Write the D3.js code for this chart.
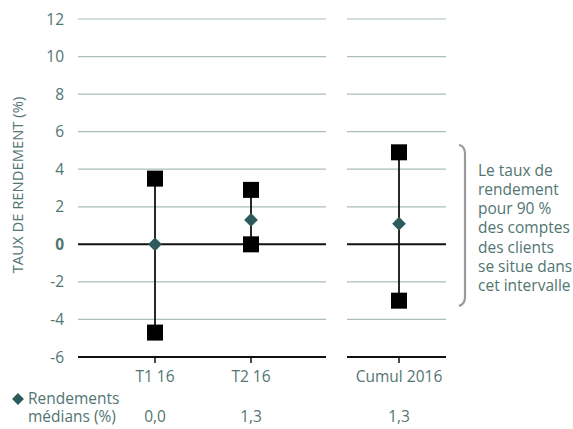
<!DOCTYPE html>
<html lang="fr">
<head>
<meta charset="UTF-8">
<title>Taux de rendement</title>
<script src="https://d3js.org/d3.v7.min.js"></script>
<style>
  body { margin: 0; background: #fff; }
  text { font-family: "Open Sans", "Noto Sans", sans-serif; fill: #527572; }
</style>
</head>
<body>
<svg width="573" height="429"></svg>
<script>
// data
const categories = ["T1 16", "T2 16", "Cumul 2016"];
const highs = [3.5, 2.9, 4.9];
const lows = [-4.7, 0.0, -3.0];
const medians = [0.0, 1.3, 1.1];
const medianLabels = ["0,0", "1,3", "1,3"];
const yTicks = [-6, -4, -2, 0, 2, 4, 6, 8, 10, 12];
const noteLines = ["Le taux de", "rendement", "pour 90 %", "des comptes", "des clients", "se situe dans", "cet intervalle"];

const svg = d3.select("svg");
const gridCol = "#a9bebc";
const fs = 15.5;

const y = d3.scaleLinear().domain([-6, 12]).range([357, 19]);
// two panels: first two quarters, then the cumulative one
const x1 = d3.scalePoint().domain(categories.slice(0, 2)).range([155, 251]);
const xc = d => d === categories[2] ? 399 : x1(d);
const panels = [[78, 326], [347, 446]];

// grid lines
panels.forEach(p => {
  svg.selectAll(null).data(yTicks.filter(t => t !== 0 && t !== -6)).enter()
    .append("line")
    .attr("x1", p[0]).attr("x2", p[1])
    .attr("y1", d => y(d)).attr("y2", d => y(d))
    .attr("stroke", gridCol).attr("stroke-width", 1.2);
  // zero line and bottom axis
  [0, -6].forEach(v => {
    svg.append("line")
      .attr("x1", p[0]).attr("x2", p[1])
      .attr("y1", y(v)).attr("y2", y(v))
      .attr("stroke", "#111").attr("stroke-width", 2);
  });
});

// y tick labels
svg.selectAll(null).data(yTicks).enter()
  .append("text")
  .attr("x", 64).attr("y", d => y(d) + 5.5)
  .attr("text-anchor", "end")
  .attr("font-size", fs)
  .style("font-weight", d => d === 0 ? "bold" : null)
  .text(d => d);

// y title
svg.append("text")
  .attr("transform", "translate(23,185) rotate(-90)")
  .attr("text-anchor", "middle")
  .attr("font-size", 14.8)
  .text("TAUX DE RENDEMENT (%)");

// x ticks and labels
categories.forEach(c => {
  svg.append("line")
    .attr("x1", xc(c)).attr("x2", xc(c))
    .attr("y1", y(-6)).attr("y2", y(-6) + 6)
    .attr("stroke", "#111").attr("stroke-width", 1.5);
  svg.append("text")
    .attr("x", xc(c)).attr("y", 382)
    .attr("text-anchor", "middle")
    .attr("font-size", fs)
    .text(c);
});

// ranges
const g = svg.append("g");
categories.forEach((c, i) => {
  g.append("line")
    .attr("x1", xc(c)).attr("x2", xc(c))
    .attr("y1", y(highs[i])).attr("y2", y(lows[i]))
    .attr("stroke", "#111").attr("stroke-width", 1.8);
  [highs[i], lows[i]].forEach(v => {
    g.append("rect")
      .attr("x", xc(c) - 8).attr("y", y(v) - 8)
      .attr("width", 16).attr("height", 16)
      .attr("fill", "#000");
  });
  g.append("path")
    .attr("d", d3.symbol(d3.symbolDiamond2, 120)())
    .attr("transform", "translate(" + xc(c) + "," + y(medians[i]) + ")")
    .attr("fill", "#2d5a5a");
  svg.append("text")
    .attr("x", xc(c)).attr("y", 422)
    .attr("text-anchor", "middle")
    .attr("font-size", fs)
    .text(medianLabels[i]);
});

// bracket
svg.append("path")
  .attr("d", "M459,145 Q465,146 465,154 L465,297 Q465,304 459,306")
  .attr("fill", "none").attr("stroke", "#9a9a9a").attr("stroke-width", 2.2);

svg.append("g").selectAll("text").data(noteLines).enter()
  .append("text")
  .attr("x", 478).attr("y", (d, i) => 175.5 + i * 19.25)
  .attr("font-size", fs)
  .text(d => d);

// legend
svg.append("path")
  .attr("d", d3.symbol(d3.symbolDiamond2, 90)())
  .attr("transform", "translate(18,399)")
  .attr("fill", "#2d5a5a");
svg.append("text").attr("x", 28).attr("y", 404).attr("font-size", fs).text("Rendements");
svg.append("text").attr("x", 28).attr("y", 422).attr("font-size", fs).text("médians (%)");
</script>
</body>
</html>
